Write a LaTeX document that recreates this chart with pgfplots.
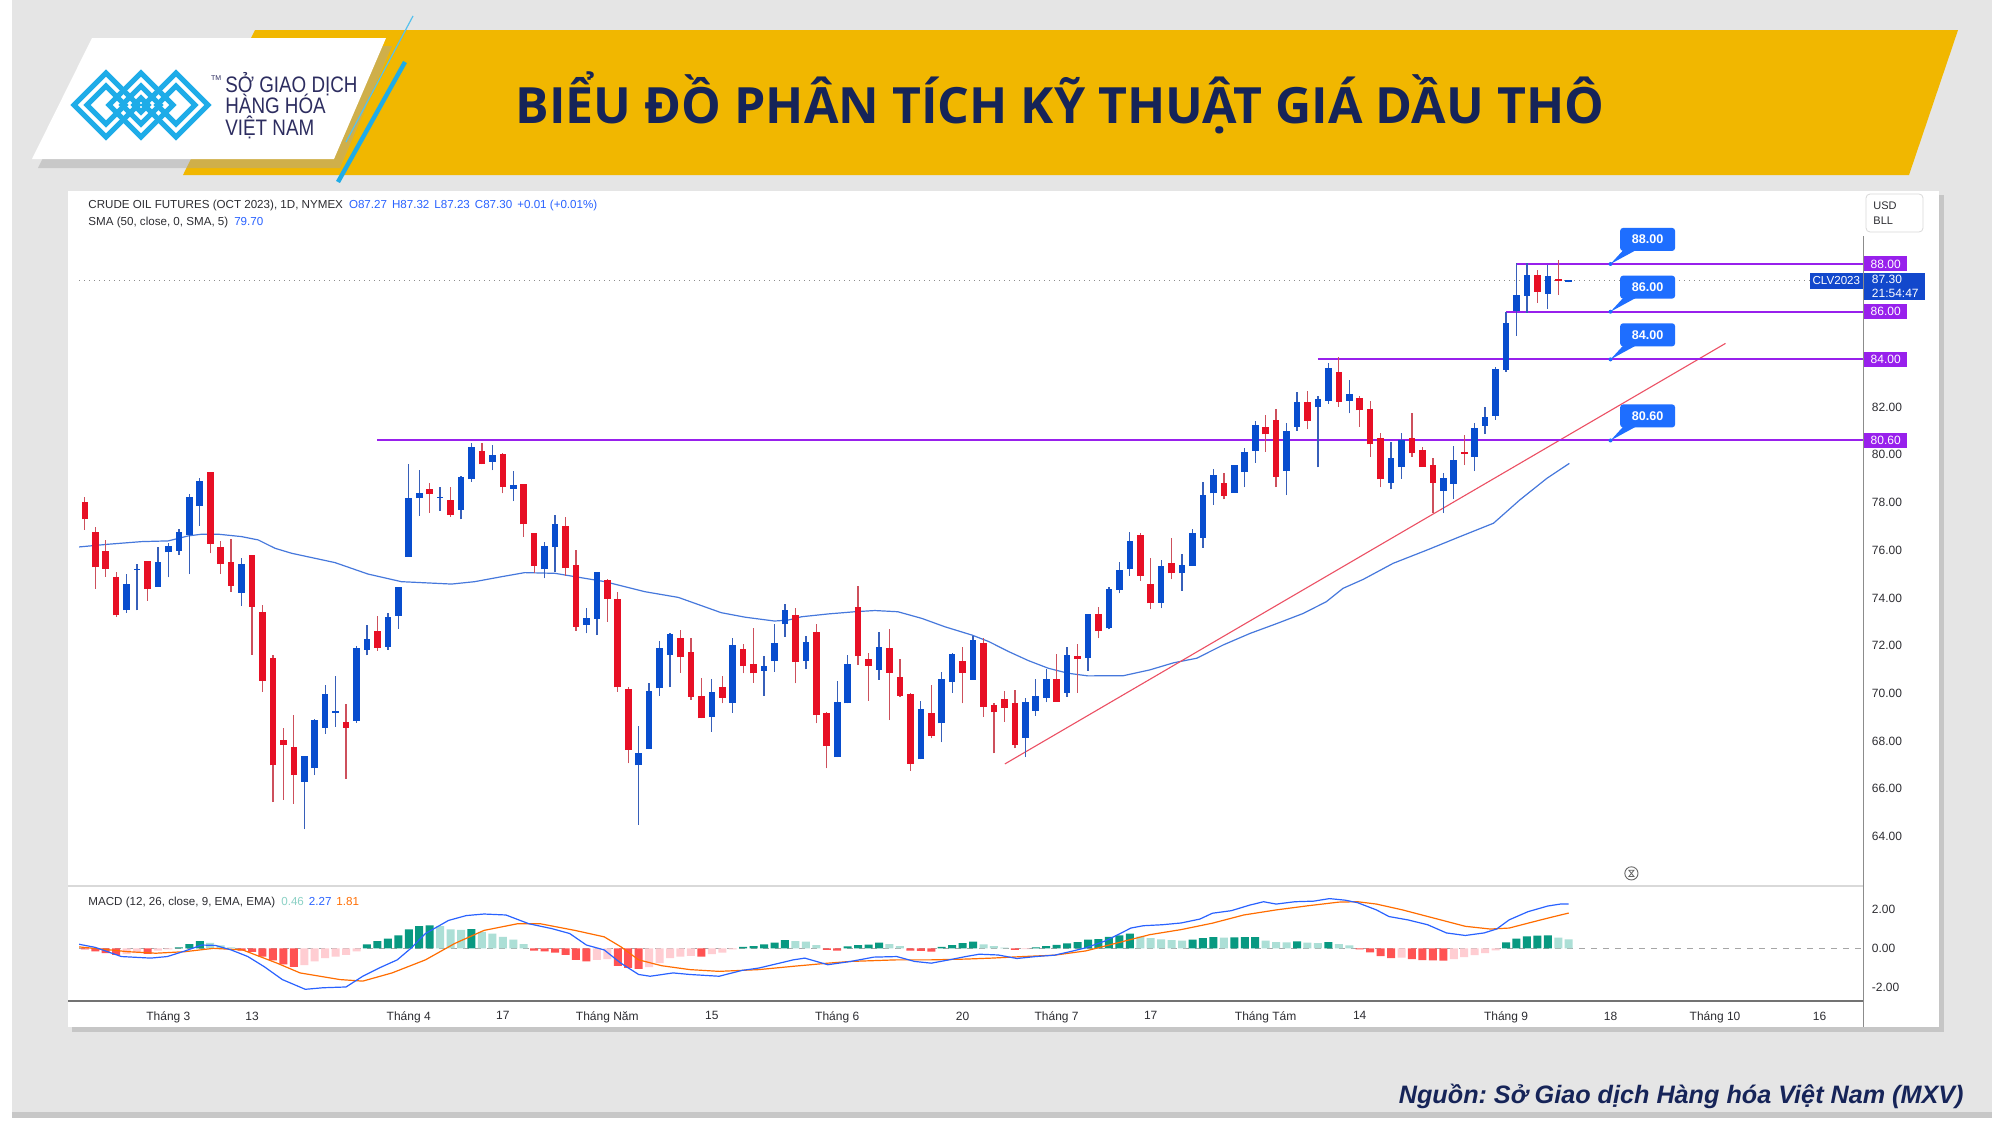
\documentclass[border=0pt]{standalone}
\usepackage{fontspec}
\setmainfont{Liberation Sans}
\newfontfamily\titlefont{Open Sans}
\usepackage{pgfplots}
\pgfplotsset{compat=1.18}
\usepackage{pgfplotstable}

\definecolor{bggray}{RGB}{229,229,229}
\definecolor{hdryellow}{RGB}{241,183,0}
\definecolor{navy}{RGB}{22,36,88}
\definecolor{logoblue}{RGB}{30,172,232}
\definecolor{logotext}{RGB}{45,45,96}
\definecolor{cblue}{RGB}{8,77,206}
\definecolor{cred}{RGB}{231,15,37}
\definecolor{wblue}{RGB}{55,95,185}
\definecolor{wred}{RGB}{205,80,92}
\definecolor{smablue}{RGB}{70,120,220}
\definecolor{trendred}{RGB}{236,80,100}
\definecolor{lvlpurple}{RGB}{152,32,236}
\definecolor{calloutblue}{RGB}{30,110,255}
\definecolor{pricebox}{RGB}{18,72,204}
\definecolor{tickcol}{RGB}{45,45,50}
\definecolor{infoblue}{RGB}{41,98,255}
\definecolor{teal}{RGB}{8,153,129}
\definecolor{lteal}{RGB}{172,223,214}
\definecolor{hred}{RGB}{255,82,82}
\definecolor{hpink}{RGB}{255,205,210}
\definecolor{macdblue}{RGB}{41,98,255}
\definecolor{sigorange}{RGB}{255,109,0}

\pgfplotstableread{
i o h l c
4 73.48 75.00 73.38 74.57
5 75.16 75.42 73.48 75.22
7 74.46 76.15 74.46 75.49
8 75.91 76.29 74.86 76.18
9 75.97 76.90 75.81 76.78
10 76.64 78.36 75.00 78.24
11 77.85 79.01 77.03 78.89
15 74.22 75.66 73.67 75.42
21 66.29 67.37 64.31 67.37
22 66.85 68.91 66.57 68.88
23 68.56 70.35 68.31 69.96
24 69.18 70.73 68.60 69.24
26 68.84 71.98 68.77 71.89
27 71.82 72.86 71.59 72.26
29 71.96 73.38 71.82 73.19
30 73.26 74.44 72.71 74.44
31 75.72 79.61 75.72 78.20
32 78.17 79.36 77.45 78.40
34 78.19 78.64 77.66 78.25
36 77.69 79.13 77.29 79.08
37 78.97 80.48 78.87 80.34
39 79.71 80.41 79.35 79.98
41 78.58 79.34 78.06 78.73
44 75.20 76.36 74.82 76.18
45 76.12 77.48 75.10 77.10
48 72.88 73.59 72.51 73.14
49 73.13 75.07 72.44 75.07
53 66.98 68.63 64.48 67.48
54 67.66 70.42 67.66 70.11
55 70.21 72.19 69.89 71.89
56 71.62 72.54 70.25 72.49
60 69.02 70.59 68.39 70.07
62 69.61 72.31 69.19 72.01
65 70.95 71.58 69.90 71.16
66 71.35 72.89 70.91 72.10
67 72.89 73.74 72.37 73.49
69 71.37 72.40 71.00 72.14
72 67.32 70.50 67.32 69.62
73 69.58 71.61 69.58 71.21
76 70.98 72.57 70.56 71.96
80 67.23 69.66 67.23 69.33
82 68.74 70.91 67.94 70.59
83 70.49 71.70 70.03 71.63
85 70.56 72.41 70.56 72.24
90 68.14 69.79 67.32 69.65
91 69.27 70.59 69.05 69.90
92 69.82 71.02 69.62 70.59
94 70.03 71.95 69.86 71.59
96 71.47 73.34 70.95 73.34
98 72.72 74.44 72.68 74.36
99 74.33 75.52 74.19 75.17
100 75.21 76.78 74.93 76.39
103 73.80 75.59 73.56 75.34
105 75.03 75.84 74.29 75.37
106 75.35 76.89 75.35 76.71
107 76.53 78.85 76.11 78.31
108 78.38 79.39 77.90 79.14
110 78.41 79.59 78.41 79.57
111 79.27 80.30 78.64 80.10
112 80.17 81.43 79.67 81.25
115 79.32 81.35 78.31 81.01
116 81.18 82.62 81.01 82.23
118 81.99 82.46 79.47 82.33
119 82.26 83.86 82.13 83.65
121 82.26 83.14 81.74 82.53
125 78.83 80.52 78.55 79.85
126 79.50 80.93 79.00 80.62
130 78.50 79.22 77.55 79.01
131 78.78 80.38 78.13 79.78
133 79.92 81.35 79.32 81.11
134 81.21 81.99 80.87 81.60
135 81.63 83.67 81.46 83.58
136 83.56 86.00 83.49 85.51
137 86.04 88.03 84.99 86.70
138 86.67 88.03 85.96 87.54
140 86.76 87.96 86.13 87.50
142 87.26 87.32 87.23 87.31
}\bluecandles

\pgfplotstableread{
i o h l c
0 78.01 78.25 76.85 77.29
1 76.75 76.99 74.39 75.28
2 75.98 76.43 74.89 75.23
3 74.89 75.10 73.21 73.27
6 75.53 75.55 73.88 74.37
12 79.29 79.29 75.87 76.27
13 76.13 76.39 75.00 75.42
14 75.49 76.46 74.26 74.50
16 75.79 75.79 71.61 73.63
17 73.40 73.72 70.07 70.53
18 71.48 71.59 65.44 66.98
19 68.04 68.55 65.53 67.83
20 67.76 69.08 65.36 66.57
25 68.81 69.55 66.41 68.56
28 72.61 73.24 71.79 71.91
33 78.55 78.83 77.57 78.34
35 78.10 78.64 77.41 77.49
38 80.17 80.51 79.60 79.60
40 80.02 80.06 78.38 78.66
42 78.76 78.76 76.57 77.08
43 76.74 76.74 75.03 75.35
46 77.01 77.38 74.92 75.24
47 75.37 76.01 72.63 72.79
50 74.75 74.78 73.00 73.97
51 73.94 74.26 70.07 70.25
52 70.18 70.28 67.06 67.62
57 72.33 72.65 70.87 71.51
58 71.72 72.33 69.72 69.86
59 69.90 70.63 68.95 68.95
61 70.28 70.73 69.58 69.82
63 71.84 72.05 70.84 71.14
64 71.23 72.73 70.45 70.84
68 73.30 73.56 70.42 71.31
70 72.57 72.89 68.74 69.09
71 69.19 69.23 66.85 67.79
74 73.63 74.51 71.19 71.56
75 71.45 71.68 69.69 71.15
77 71.89 72.68 68.88 70.87
78 70.67 71.44 69.86 69.89
79 69.96 70.00 66.76 67.04
81 69.16 70.35 68.11 68.22
84 71.36 71.96 69.58 70.87
86 72.12 72.33 69.02 69.44
87 69.50 69.60 67.48 69.20
88 69.75 70.11 68.81 69.40
89 69.58 70.14 67.69 67.83
93 70.59 71.63 69.65 69.65
95 71.58 72.05 70.03 71.44
97 73.33 73.63 72.30 72.61
101 76.62 76.71 74.72 74.93
102 74.57 75.69 73.52 73.77
104 75.45 76.50 74.78 75.03
109 78.80 79.25 78.13 78.29
113 81.18 81.66 80.13 80.86
114 81.46 81.90 78.64 79.08
117 82.23 82.68 81.07 81.43
120 83.46 84.11 82.02 82.23
122 82.40 82.48 81.18 81.86
123 81.90 82.27 79.92 80.44
124 80.69 80.90 78.63 78.97
127 80.69 81.74 79.92 80.06
128 80.20 80.31 79.55 79.50
129 79.57 79.85 77.55 78.83
132 80.12 80.83 79.57 80.05
139 87.54 87.75 86.38 86.83
141 87.36 88.17 86.70 87.29
}\redcandles

\begin{document}
\begin{tikzpicture}
\path[use as bounding box] (0,0) rectangle (1000pt,-562.5pt);
\begin{scope}[x=0.5pt,y=-0.5pt]
  \fill[white] (0,0) rectangle (2000,1125);
  \fill[bggray] (12,0) rectangle (1992,1116);
  \fill[black!22] (12,1112) rectangle (1992,1118);
  % header banner
  \fill[hdryellow] (255,30) -- (1958,30) -- (1909,175) -- (183,175) -- cycle;
  % logo card
  \fill[black!35, opacity=0.45] (98,46) -- (392,46) -- (340,168) -- (38,168) -- cycle;
  \fill[white] (92,38) -- (386,38) -- (334,159) -- (32,159) -- cycle;
  \draw[logoblue!75, line width=0.6pt] (413,16) -- (346,142);
  \draw[logoblue, line width=2.2pt] (405,62) -- (338,182);
  % logo icon
  \begin{scope}[line width=2.5pt, logoblue, line join=miter]
    \draw (106,73) -- (138,105) -- (106,137) -- (74,105) -- cycle;
    \draw (106,86) -- (125,105) -- (106,124) -- (87,105) -- cycle;
    \draw (141,73) -- (173,105) -- (141,137) -- (109,105) -- cycle;
    \draw (141,86) -- (160,105) -- (141,124) -- (122,105) -- cycle;
    \draw (141,98) -- (148,105) -- (141,112) -- (134,105) -- cycle;
    \draw (176,73) -- (208,105) -- (176,137) -- (144,105) -- cycle;
    \draw (176,86) -- (195,105) -- (176,124) -- (157,105) -- cycle;
  \end{scope}
  \node[anchor=west, text=logotext, font=\fontsize{3.5}{4}\selectfont] at (204,78) {TM};
  \node[anchor=base west, text=logotext, inner sep=0pt, font=\fontsize{11.2}{12}\selectfont] at (225,92) {\scalebox{0.84}[1]{SỞ GIAO DỊCH}};
  \node[anchor=base west, text=logotext, inner sep=0pt, font=\fontsize{11.2}{12}\selectfont] at (225,113.5) {\scalebox{0.84}[1]{HÀNG HÓA}};
  \node[anchor=base west, text=logotext, inner sep=0pt, font=\fontsize{11.2}{12}\selectfont] at (225,135) {\scalebox{0.84}[1]{VIỆT NAM}};
  % title
  \node[anchor=base, text=navy, inner sep=0pt, font=\titlefont\bfseries\fontsize{25}{28}\selectfont] at (1060,123) {BIỂU ĐỒ PHÂN TÍCH KỸ THUẬT GIÁ DẦU THÔ};
  % source
  \node[anchor=base east, text=navy, inner sep=0pt, font=\bfseries\itshape\fontsize{12.6}{14}\selectfont] at (1964,1103) {Nguồn:\hspace{-1.2pt} Sở Giao dịch Hàng hóa Việt Nam (MXV)};
  % chart card
  \fill[black!30, opacity=0.6] (72,195) rectangle (1944,1032);
  \fill[white] (68,191) rectangle (1939,1027);
  % info text
  \node[anchor=base west, inner sep=0pt, font=\fontsize{5.8}{7}\selectfont, text=tickcol] at (88,208) {CRUDE OIL FUTURES (OCT 2023), 1D, NYMEX\hspace{3pt}\textcolor{infoblue}{O87.27\hspace{2.5pt}H87.32\hspace{2.5pt}L87.23\hspace{2.5pt}C87.30\hspace{2.5pt}+0.01 (+0.01\%)}};
  \node[anchor=base west, inner sep=0pt, font=\fontsize{5.8}{7}\selectfont, text=tickcol] at (88,225) {SMA (50, close, 0, SMA, 5)\hspace{3pt}\textcolor{infoblue}{79.70}};
  \node[anchor=base west, inner sep=0pt, font=\fontsize{5.8}{7}\selectfont, text=tickcol] at (88,905) {MACD (12, 26, close, 9, EMA, EMA)\hspace{3pt}\textcolor{lteal!80!teal}{0.46}\hspace{2.5pt}\textcolor{macdblue}{2.27}\hspace{2.5pt}\textcolor{sigorange}{1.81}};
  % USD box
  \draw[black!15, fill=white, rounded corners=2pt] (1866,194) rectangle (1923,232);
  \node[anchor=west, inner sep=0pt, font=\fontsize{5.5}{6}\selectfont, text=tickcol] at (1873,206) {USD};
  \node[anchor=west, inner sep=0pt, font=\fontsize{5.5}{6}\selectfont, text=tickcol] at (1873,221) {BLL};
  % panel lines
  \draw[black!15, line width=0.6pt] (68,886) -- (1863.5,886);
\end{scope}

% ---------------- price panel ----------------
\begin{axis}[
  at={(39.5pt,-443pt)}, anchor=south west,
  scale only axis, width=892.25pt, height=347.5pt,
  xmin=-0.555, xmax=170.21, ymin=61.92, ymax=91.06,
  axis line style={draw=none}, tick style={draw=none},
  xtick=\empty,
  ytick={64,66,68,70,72,74,76,78,80,82},
  yticklabels={64.00,66.00,68.00,70.00,72.00,74.00,76.00,78.00,80.00,82.00},
  yticklabel pos=right,
  yticklabel style={font=\fontsize{6}{7}\selectfont, text=tickcol, anchor=west, inner xsep=0pt, xshift=4pt},
  clip mode=individual,
  candle/.style={draw=none, mark=none, error bars/.cd, y dir=plus, y explicit, error mark=none},
]
% last price dotted line
\addplot[black!45, dotted, line width=0.5pt] coordinates {(-0.555,87.3) (170.21,87.3)};
% SMA 50
\addplot[smablue, line width=0.6pt] coordinates {
(-0.94,76.12) (2.25,76.25) (5.44,76.36) (7.99,76.39) (9.91,76.60) (11.18,76.67) (12.78,76.67) (15.0,76.57) (16.6,76.43) (18.2,76.08) (19.8,75.87) (22.03,75.66) (23.94,75.48) (27.1,75.0) (30.3,74.68) (35.1,74.58) (37.3,74.68) (39.9,74.89) (42.1,75.06) (45.0,75.03) (46.9,74.89) (49.8,74.68) (50.4,74.61) (53.6,74.26) (56.8,74.02) (58.4,73.77) (60.9,73.38) (63.2,73.19) (66.0,73.03) (67.3,73.07) (68.6,73.21) (71.2,73.33) (73.7,73.42) (75.6,73.47) (77.8,73.42) (80.1,73.14) (82.3,72.79) (84.9,72.44) (86.5,72.17) (88.4,71.75) (90.3,71.37) (92.2,71.05) (94.1,70.84) (96.0,70.73) (99.4,70.74) (101.9,70.98) (104.2,71.28) (106.4,71.47) (108.95,72.03) (111.5,72.51) (114.1,72.93) (116.6,73.35) (118.8,73.84) (120.4,74.4) (122.35,74.78) (125.2,75.45) (128.4,76.0) (131.6,76.57) (134.8,77.13) (137.3,78.1) (139.9,79.01) (142.06,79.64)};
% trend line
\addplot[trendred, line width=0.55pt] coordinates {(88.05,67.04) (157.0,84.67)};
% levels
\addplot[lvlpurple, line width=1pt] coordinates {(28,80.6) (170.21,80.6)};
\addplot[lvlpurple, line width=1pt] coordinates {(118,84) (170.21,84)};
\addplot[lvlpurple, line width=1pt] coordinates {(136,86) (170.21,86)};
\addplot[lvlpurple, line width=1pt] coordinates {(137,88) (170.21,88)};
% wicks
\addplot[candle, error bar style={draw=wblue, line width=0.65pt}]
  table[x=i, y=l, y error plus expr=\thisrow{h}-\thisrow{l}] {\bluecandles};
\addplot[candle, error bar style={draw=wred, line width=0.65pt}]
  table[x=i, y=l, y error plus expr=\thisrow{h}-\thisrow{l}] {\redcandles};
% bodies
\addplot[candle, error bar style={draw=cblue, line width=3.3pt}]
  table[x=i, y=o, y error plus expr=\thisrow{c}-\thisrow{o}] {\bluecandles};
\addplot[candle, error bar style={draw=cred, line width=3.3pt}]
  table[x=i, y=c, y error plus expr=\thisrow{o}-\thisrow{c}] {\redcandles};
% callouts
\fill[calloutblue] (axis cs:146,88) -- (axis cs:147.3,88.62) -- (axis cs:148.6,88.62) -- cycle;
\fill[calloutblue] (axis cs:146,86) -- (axis cs:147.3,86.62) -- (axis cs:148.6,86.62) -- cycle;
\fill[calloutblue] (axis cs:146,84) -- (axis cs:147.3,84.62) -- (axis cs:148.6,84.62) -- cycle;
\fill[calloutblue] (axis cs:146,80.6) -- (axis cs:147.3,81.22) -- (axis cs:148.6,81.22) -- cycle;
\fill[calloutblue] (axis cs:146,88) circle[radius=1pt];
\fill[calloutblue] (axis cs:146,86) circle[radius=1pt];
\fill[calloutblue] (axis cs:146,84) circle[radius=1pt];
\fill[calloutblue] (axis cs:146,80.6) circle[radius=1pt];
\node[fill=calloutblue, rounded corners=1.5pt, minimum width=27.5pt, minimum height=11.5pt, inner sep=0pt, text=white, font=\bfseries\fontsize{6.3}{7}\selectfont] at (axis cs:149.55,89.03) {88.00};
\node[fill=calloutblue, rounded corners=1.5pt, minimum width=27.5pt, minimum height=11.5pt, inner sep=0pt, text=white, font=\bfseries\fontsize{6.3}{7}\selectfont] at (axis cs:149.55,87.03) {86.00};
\node[fill=calloutblue, rounded corners=1.5pt, minimum width=27.5pt, minimum height=11.5pt, inner sep=0pt, text=white, font=\bfseries\fontsize{6.3}{7}\selectfont] at (axis cs:149.55,85.03) {84.00};
\node[fill=calloutblue, rounded corners=1.5pt, minimum width=27.5pt, minimum height=11.5pt, inner sep=0pt, text=white, font=\bfseries\fontsize{6.3}{7}\selectfont] at (axis cs:149.55,81.63) {80.60};
% right axis labels
\node[anchor=west, fill=lvlpurple, text=white, minimum width=21.75pt, minimum height=7.5pt, inner sep=0pt, font=\fontsize{6}{7}\selectfont] at (axis cs:170.21,88) {88.00};
\node[anchor=west, fill=lvlpurple, text=white, minimum width=21.75pt, minimum height=7.5pt, inner sep=0pt, font=\fontsize{6}{7}\selectfont] at (axis cs:170.21,86) {86.00};
\node[anchor=west, fill=lvlpurple, text=white, minimum width=21.75pt, minimum height=7.5pt, inner sep=0pt, font=\fontsize{6}{7}\selectfont] at (axis cs:170.21,84) {84.00};
\node[anchor=west, fill=lvlpurple, text=white, minimum width=21.75pt, minimum height=7.5pt, inner sep=0pt, font=\fontsize{6}{7}\selectfont] at (axis cs:170.21,80.6) {80.60};
\node[anchor=north west, fill=pricebox, text=white, align=left, inner xsep=4pt, inner ysep=1.2pt, text width=22.5pt, font=\fontsize{6}{6.8}\selectfont, yshift=4pt] at (axis cs:170.21,87.3) {87.30\\21:54:47};
\node[anchor=east, fill=pricebox, text=white, inner xsep=1.5pt, minimum height=8pt, inner ysep=0pt, font=\fontsize{5.8}{6.5}\selectfont] at (axis cs:170.21,87.3) {CLV2023};
% hourglass icon
\draw[black!60, line width=0.45pt] (axis cs:148,62.45) circle[radius=3.3pt];
\draw[black!60, line width=0.4pt] ([xshift=-1.3pt,yshift=1.6pt]axis cs:148,62.45) -- ([xshift=1.3pt,yshift=1.6pt]axis cs:148,62.45) -- ([xshift=-1.3pt,yshift=-1.6pt]axis cs:148,62.45) -- ([xshift=1.3pt,yshift=-1.6pt]axis cs:148,62.45) -- cycle;
\end{axis}

% ---------------- MACD panel ----------------
\begin{axis}[
  at={(39.5pt,-500.5pt)}, anchor=south west,
  scale only axis, width=892.25pt, height=57.5pt,
  xmin=-0.555, xmax=170.21, ymin=-2.70, ymax=3.195,
  axis line style={draw=none}, tick style={draw=none},
  xtick={8,16,31,40,50,60,72,84,93,102,113,122,136,146,156,166},
  xticklabels={Tháng 3,13,Tháng 4,17,Tháng Năm,15,Tháng 6,20,Tháng 7,17,Tháng Tám,14,Tháng 9,18,Tháng 10,16},
  xticklabel style={font=\fontsize{6}{7}\selectfont, text=tickcol, yshift=-1.8pt},
  ytick={-2,0,2}, yticklabels={-2.00,0.00,2.00},
  yticklabel pos=right,
  yticklabel style={font=\fontsize{6}{7}\selectfont, text=tickcol, anchor=west, inner xsep=0pt, xshift=4pt},
  clip mode=individual,
]
\addplot[black!35, dashed, line width=0.4pt] coordinates {(-0.555,0) (170.21,0)};
\addplot[ybar, bar shift=0pt, bar width=4pt, fill=teal, draw=none] coordinates {
(9,0.05) (10,0.22) (11,0.37) (27,0.2) (28,0.37) (29,0.5) (30,0.67) (31,0.97) (32,1.14) (33,1.18) (37,0.99) (63,0.08) (64,0.12) (65,0.2) (66,0.29) (67,0.42) (73,0.1) (74,0.17) (75,0.19) (76,0.29) (82,0.08) (83,0.17) (84,0.27) (85,0.35) (91,0.05) (92,0.12) (93,0.18) (94,0.25) (95,0.32) (96,0.45) (97,0.47) (98,0.59) (99,0.66) (100,0.76) (106,0.45) (107,0.53) (108,0.58) (110,0.56) (111,0.57) (112,0.58) (116,0.36) (119,0.32) (136,0.3) (137,0.5) (138,0.62) (139,0.65) (140,0.66)};
\addplot[ybar, bar shift=0pt, bar width=4pt, fill=lteal, draw=none] coordinates {
(12,0.28) (13,0.15) (14,0.05) (34,1.14) (35,0.97) (36,0.95) (38,0.84) (39,0.76) (40,0.59) (41,0.45) (42,0.22) (68,0.37) (69,0.34) (70,0.17) (77,0.22) (78,0.12) (86,0.2) (87,0.12) (88,0.04) (101,0.6) (102,0.52) (103,0.46) (104,0.42) (105,0.4) (109,0.55) (113,0.4) (114,0.32) (115,0.3) (117,0.29) (118,0.27) (120,0.22) (121,0.15) (141,0.55) (142,0.46)};
\addplot[ybar, bar shift=0pt, bar width=4pt, fill=hred, draw=none] coordinates {
(0,-0.05) (1,-0.15) (2,-0.25) (3,-0.33) (6,-0.28) (15,-0.12) (16,-0.18) (17,-0.42) (18,-0.62) (19,-0.82) (20,-0.95) (43,-0.12) (44,-0.15) (45,-0.22) (46,-0.34) (47,-0.59) (48,-0.67) (51,-0.9) (52,-1.0) (53,-1.05) (59,-0.42) (71,-0.08) (72,-0.12) (79,-0.12) (80,-0.13) (81,-0.17) (89,-0.08) (122,-0.05) (123,-0.2) (124,-0.4) (125,-0.5) (127,-0.55) (128,-0.6) (129,-0.62) (130,-0.63)};
\addplot[ybar, bar shift=0pt, bar width=4pt, fill=hpink, draw=none] coordinates {
(4,-0.3) (5,-0.25) (7,-0.12) (8,-0.05) (21,-0.86) (22,-0.67) (23,-0.5) (24,-0.42) (25,-0.34) (26,-0.15) (49,-0.59) (50,-0.55) (54,-0.96) (55,-0.76) (56,-0.5) (57,-0.42) (58,-0.39) (60,-0.29) (61,-0.22) (62,-0.05) (90,-0.04) (126,-0.48) (131,-0.55) (132,-0.45) (133,-0.35) (134,-0.25) (135,-0.1)};
\addplot[sigorange, line width=0.6pt] coordinates {
(-0.65,0.08) (4.1,-0.17) (6.8,-0.25) (9.6,-0.17) (12.3,0.0) (15.1,-0.08) (18.4,-0.76) (20.6,-1.26) (24.4,-1.6) (26.6,-1.68) (29.4,-1.26) (32.6,-0.59) (35.4,0.25) (38.2,0.92) (41.4,1.26) (43.6,1.26) (46.9,0.92) (49.7,0.59) (51.3,0.08) (53,-0.59) (55.2,-0.89) (57.9,-1.09) (60.7,-1.18) (64.5,-1.09) (67.8,-0.92) (71.1,-0.76) (73.3,-0.67) (77.7,-0.59) (81,-0.59) (84.3,-0.55) (86.8,-0.5) (89.8,-0.42) (92.8,-0.35) (95.8,-0.13) (98.9,0.29) (101.9,0.7) (104.9,0.96) (107.9,1.29) (110.9,1.71) (114,1.97) (117,2.18) (120,2.37) (121.8,2.39) (123.6,2.27) (126.1,1.97) (129.1,1.55) (132.1,1.13) (134.5,0.99) (136.3,1.04) (138.1,1.29) (140,1.55) (142,1.81)};
\addplot[macdblue, line width=0.6pt] coordinates {
(-0.65,0.22) (1.0,0.05) (3.5,-0.42) (6.3,-0.5) (7.9,-0.42) (9.5,-0.15) (11.2,0.17) (12.5,0.15) (14,-0.08) (15.6,-0.42) (17.2,-0.95) (18.9,-1.6) (21.1,-2.1) (22.8,-2.02) (25,-1.98) (26.6,-1.43) (28.2,-1.0) (29.9,-0.59) (31.2,0.0) (32.6,0.76) (34.8,1.43) (36.5,1.68) (38.2,1.76) (40.3,1.71) (42.5,1.26) (44.7,1.01) (46.4,0.76) (48,0.17) (49.7,-0.08) (51.3,-0.76) (53,-1.34) (54.1,-1.43) (56.3,-1.26) (57.9,-1.34) (60.7,-1.43) (62.9,-1.13) (64.5,-1.01) (67.8,-0.59) (68.9,-0.5) (71.1,-0.84) (73.3,-0.67) (75.5,-0.45) (77.7,-0.42) (79.4,-0.67) (81,-0.76) (82.7,-0.59) (84.3,-0.42) (85.6,-0.3) (87.4,-0.34) (89.2,-0.52) (91,-0.42) (92.8,-0.35) (94.6,-0.13) (95.8,0.03) (97.6,0.37) (98.9,0.71) (100.1,1.04) (101.3,1.16) (103.1,1.21) (104.9,1.3) (106.7,1.5) (107.9,1.8) (109.7,1.93) (111.5,2.22) (112.8,2.39) (114,2.27) (115.8,2.39) (117.6,2.42) (119.1,2.55) (120.6,2.47) (121.8,2.34) (123.6,1.97) (124.8,1.63) (126.6,1.46) (128.5,1.21) (130.3,0.79) (132.1,0.66) (133.9,0.79) (135.1,0.99) (136.3,1.46) (138.1,1.88) (140,2.17) (141.2,2.27) (142,2.27)};
\end{axis}

\begin{scope}[x=0.5pt,y=-0.5pt]
  \draw[black!55, line width=0.6pt] (68,1001) -- (1863.5,1001);
  \draw[black!45, line width=0.6pt] (1863.5,236) -- (1863.5,1027);
\end{scope}
\end{tikzpicture}
\end{document}
